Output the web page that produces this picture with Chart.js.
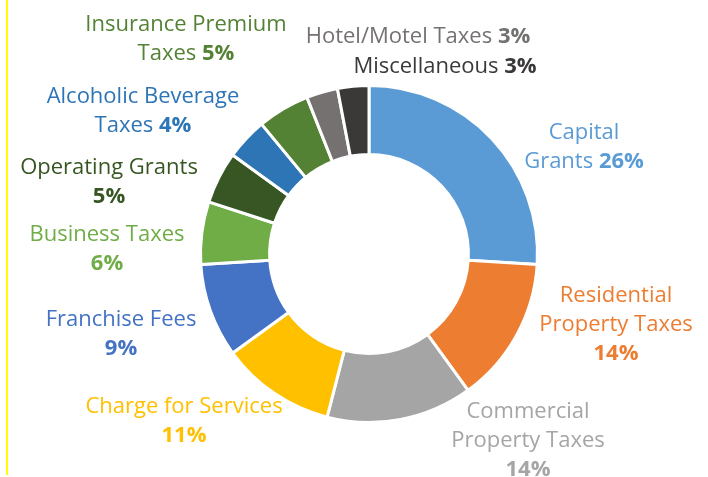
<!DOCTYPE html>
<html>
<head>
<meta charset="utf-8">
<script src="https://cdn.jsdelivr.net/npm/chart.js@4.4.1/dist/chart.umd.min.js"></script>
<style>
  html, body { margin: 0; padding: 0; background: #fff; }
  #wrap { position: relative; width: 708px; height: 477px; }
  #bar { position: absolute; left: 6px; top: 0; width: 2px; height: 475px; background: #ffff00; }
  canvas { position: absolute; left: 0; top: 0; }
</style>
</head>
<body>
<div id="wrap">
  <canvas id="c" width="708" height="477"></canvas>
  <div id="bar"></div>
</div>
<script>
// data (clockwise from 12 o'clock)
const categories = [
  "Capital Grants",
  "Residential Property Taxes",
  "Commercial Property Taxes",
  "Charge for Services",
  "Franchise Fees",
  "Business Taxes",
  "Operating Grants",
  "Alcoholic Beverage Taxes",
  "Insurance Premium Taxes",
  "Hotel/Motel Taxes",
  "Miscellaneous",
];
const shares = [26, 14, 14, 11, 9, 6, 5, 4, 5, 3, 3];

const sliceColors = [
  "#5b9bd5", "#ed7d31", "#a5a5a5", "#ffc000", "#4472c4", "#70ad47",
  "#375623", "#2e75b6", "#548235", "#767171", "#3b3838",
];

// how each label wraps; {p} = bold percentage
const labelLines = [
  ["Capital", "Grants {p}"],
  ["Residential", "Property Taxes", "{p}"],
  ["Commercial", "Property Taxes", "{p}"],
  ["Charge for Services", "{p}"],
  ["Franchise Fees", "{p}"],
  ["Business Taxes", "{p}"],
  ["Operating Grants", "{p}"],
  ["Alcoholic Beverage", "Taxes {p}"],
  ["Insurance Premium", "Taxes {p}"],
  ["Hotel/Motel Taxes {p}"],
  ["Miscellaneous {p}"],
];
// label anchor (centre x, middle of first line)
const labelAnchor = [
  [584, 133], [616, 296], [528, 412], [184, 407], [121, 320], [107, 235],
  [109, 168], [143, 97], [186, 25], [418, 37], [445, 67],
];

const FONT = '"Open Sans", "Noto Sans", sans-serif';
const FS = 22;
const LINE_H = 29;

const labelPlugin = {
  id: "outsideLabels",
  afterDraw(chart) {
    const ctx = chart.ctx;
    ctx.save();
    ctx.textBaseline = "middle";
    labelLines.forEach((lines, i) => {
      const [cx, cy] = labelAnchor[i];
      ctx.fillStyle = sliceColors[i];
      lines.forEach((ln, j) => {
        const parts = ln.split("{p}");
        const segs = [];
        if (parts[0]) segs.push({ t: parts[0], b: false });
        if (ln.includes("{p}")) segs.push({ t: shares[i] + "%", b: true });
        if (parts[1]) segs.push({ t: parts[1], b: false });
        let w = 0;
        segs.forEach(s => {
          ctx.font = (s.b ? "bold " : "") + FS + "px " + FONT;
          s.w = ctx.measureText(s.t).width;
          w += s.w;
        });
        let x = cx - w / 2;
        const y = cy + j * LINE_H;
        segs.forEach(s => {
          ctx.font = (s.b ? "bold " : "") + FS + "px " + FONT;
          ctx.textAlign = "left";
          ctx.fillText(s.t, x, y);
          x += s.w;
        });
      });
    });
    ctx.restore();
  },
};

new Chart(document.getElementById("c").getContext("2d"), {
  type: "doughnut",
  data: {
    labels: categories,
    datasets: [{
      data: shares,
      backgroundColor: sliceColors,
      borderColor: "#ffffff",
      borderWidth: 3,
    }],
  },
  options: {
    responsive: false,
    animation: false,
    cutout: "59%",
    layout: { padding: { top: 84, bottom: 53, left: 199, right: 169 } },
    plugins: {
      legend: { display: false },
      tooltip: { enabled: false },
    },
  },
  plugins: [labelPlugin],
});
</script>
</body>
</html>
